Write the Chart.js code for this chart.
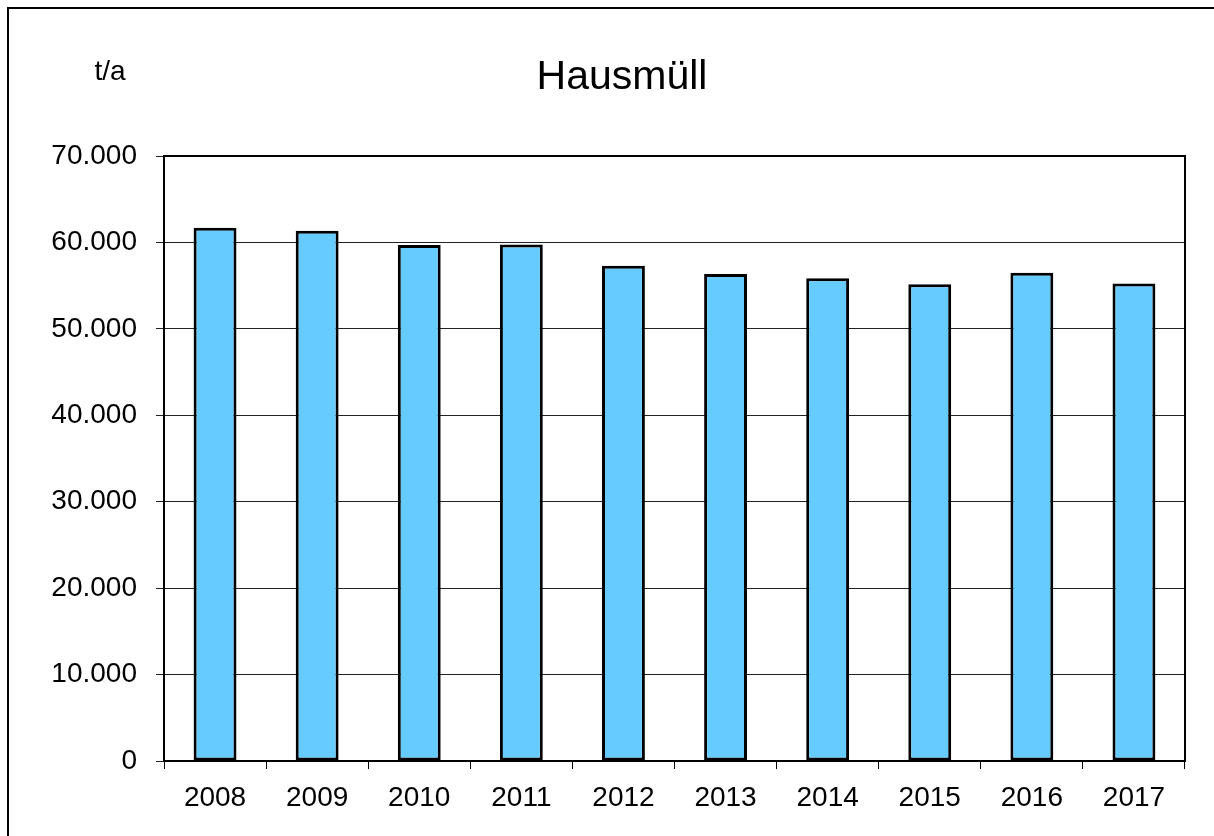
<!DOCTYPE html>
<html>
<head>
<meta charset="utf-8">
<script src="https://cdn.jsdelivr.net/npm/chart.js@4"></script>
<style>
  html, body { margin: 0; padding: 0; background: #fff; overflow: hidden; }
  #wrap { width: 1214px; height: 836px; position: relative; }
</style>
</head>
<body>
<div id="wrap"><canvas id="chart"></canvas></div>
<script>
const years = ["2008", "2009", "2010", "2011", "2012", "2013", "2014", "2015", "2016", "2017"];
const tonnes = [61700, 61350, 59700, 59750, 57300, 56350, 55850, 55150, 56500, 55250];
const yTicks = [0, 10000, 20000, 30000, 40000, 50000, 60000, 70000];
const chartTitle = "Hausmüll";
const unitLabel = "t/a";

const fontFamily = "'Liberation Sans', Arial, sans-serif";

// frame, plot border and the two free texts
const decor = {
  id: "decor",
  afterDraw(chart) {
    const ctx = chart.ctx;
    const a = chart.chartArea;
    ctx.save();
    ctx.strokeStyle = "#000";
    ctx.lineWidth = 2;
    ctx.strokeRect(8, 8, 1220, 840);
    ctx.strokeRect(a.left, a.top, a.right - a.left, a.bottom - a.top);
    ctx.fillStyle = "#000";
    ctx.textBaseline = "alphabetic";
    ctx.textAlign = "center";
    ctx.font = "41px " + fontFamily;
    ctx.fillText(chartTitle, 622, 89);
    ctx.font = "28px " + fontFamily;
    ctx.fillText(unitLabel, 110, 80);
    ctx.restore();
  }
};

new Chart(document.getElementById("chart"), {
  type: "bar",
  data: {
    labels: years,
    datasets: [{
      data: tonnes,
      backgroundColor: "#66CCFF",
      borderColor: "#000",
      borderWidth: 3,
      borderSkipped: false,
      barPercentage: 0.42,
      categoryPercentage: 1.0
    }]
  },
  options: {
    responsive: true,
    maintainAspectRatio: false,
    animation: false,
    layout: { padding: { top: 156, right: 29, left: 0, bottom: 0 } },
    plugins: {
      legend: { display: false },
      title: { display: false },
      tooltip: { enabled: false }
    },
    scales: {
      x: {
        afterFit(scale) { scale.height = 75; },
        grid: { drawOnChartArea: false, drawTicks: true, tickLength: 8, color: "#000", lineWidth: 1 },
        border: { color: "#000", width: 2 },
        ticks: { color: "#000", font: { family: fontFamily, size: 28 }, padding: 12, maxRotation: 0 }
      },
      y: {
        min: 0,
        max: 70000,
        afterFit(scale) { scale.width = 164; },
        afterBuildTicks(scale) { scale.ticks = yTicks.map(v => ({ value: v })); },
        grid: { color: "#222", lineWidth: 1, tickLength: 8 },
        border: { color: "#000", width: 2 },
        ticks: {
          color: "#000",
          padding: 19,
          font: { family: fontFamily, size: 28 },
          callback: (v) => v === 0 ? "0" : v.toLocaleString("de-DE")
        }
      }
    }
  },
  plugins: [decor]
});
</script>
</body>
</html>
